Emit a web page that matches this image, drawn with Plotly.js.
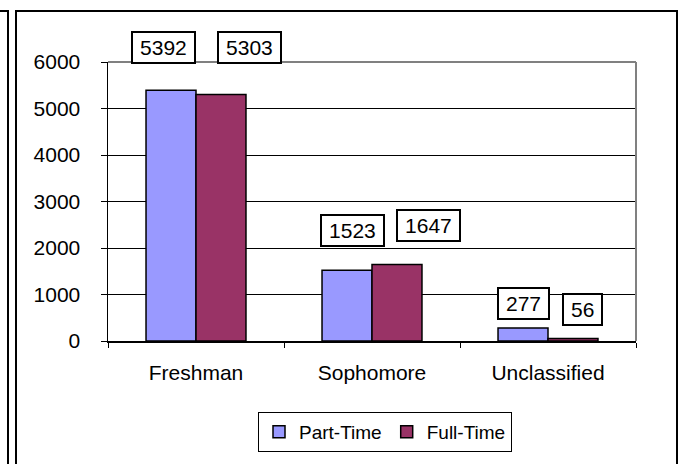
<!DOCTYPE html>
<html>
<head>
<meta charset="utf-8">
<script src="https://cdn.plot.ly/plotly-3.0.1.min.js"></script>
<style>
  html, body { margin: 0; padding: 0; background: #fff; }
  #chart { width: 684px; height: 464px; }
</style>
</head>
<body>
<div id="chart"></div>
<script>
// ---- data ----
var categories = ['Freshman', 'Sophomore', 'Unclassified'];
var partTime = [5392, 1523, 277];
var fullTime = [5303, 1647, 56];
var seriesNames = ['Part-Time', 'Full-Time'];
var yTicks = [0, 1000, 2000, 3000, 4000, 5000, 6000];

// ---- layout geometry (pixels) ----
var W = 684, H = 464;
var L = 108, R = 636, T = 62, B = 341;
function px(x) { return (x - L) / (R - L); }
function py(y) { return (B - y) / (B - T); }

var FONT = '"Liberation Sans", Arial, Helvetica, sans-serif';

var traces = [
  {
    type: 'bar', name: seriesNames[0], x: categories, y: partTime,
    marker: { color: '#9999FF', line: { color: '#000000', width: 1.5 } },
    hoverinfo: 'none'
  },
  {
    type: 'bar', name: seriesNames[1], x: categories, y: fullTime,
    marker: { color: '#993366', line: { color: '#000000', width: 1.5 } },
    hoverinfo: 'none'
  }
];

// label placement offsets (pixels), per category, per series
var labelShiftX = [[-32.5, 53.5], [-20, 56], [-25, 34]];
var labelShiftY = [[43, 47], [40, 39], [25, 29]];

var annotations = [];
[partTime, fullTime].forEach(function (vals, s) {
  vals.forEach(function (v, i) {
    var txt = String(v);
    annotations.push({
      x: categories[i], y: v, xref: 'x', yref: 'y',
      text: txt, showarrow: false,
      xanchor: 'center', yanchor: 'middle',
      xshift: labelShiftX[i][s], yshift: labelShiftY[i][s],
      width: txt.length * 11.7 + 12, height: 27,
      bgcolor: '#ffffff', bordercolor: '#000000', borderwidth: 2, borderpad: 1,
      font: { family: FONT, size: 21, color: '#000000' }
    });
  });
});

var shapes = [
  // plot area border (top, right) in gray
  { type: 'line', xref: 'paper', yref: 'paper', x0: 0, x1: 1, y0: 1, y1: 1,
    line: { color: '#808080', width: 2 }, layer: 'above' },
  { type: 'line', xref: 'paper', yref: 'paper', x0: 1, x1: 1, y0: 0, y1: 1,
    line: { color: '#808080', width: 2 }, layer: 'above' },
  // outer chart frame
  { type: 'rect', xref: 'paper', yref: 'paper',
    x0: px(16), x1: px(677), y0: py(11), y1: py(475),
    line: { color: '#000000', width: 2 }, layer: 'above' },
  // neighbouring frame at left edge
  { type: 'rect', xref: 'paper', yref: 'paper',
    x0: px(-20), x1: px(8), y0: py(11), y1: py(475),
    line: { color: '#000000', width: 2 }, layer: 'above' }
];

var layout = {
  width: W, height: H,
  margin: { l: L, r: W - R, t: T, b: H - B, pad: 0 },
  paper_bgcolor: '#ffffff', plot_bgcolor: '#ffffff',
  font: { family: FONT, size: 21, color: '#000000' },
  barmode: 'group', bargap: 0.432, bargroupgap: 0,
  showlegend: true,
  legend: {
    orientation: 'h', x: px(385), xanchor: 'center', y: py(412), yanchor: 'top',
    bordercolor: '#000000', borderwidth: 1, bgcolor: '#ffffff',
    font: { family: FONT, size: 19, color: '#000000' },
    itemwidth: 30, traceorder: 'normal'
  },
  xaxis: {
    type: 'category', showline: true, linecolor: '#000000', linewidth: 1.5,
    ticks: 'outside', tickson: 'boundaries', ticklen: 5, tickcolor: '#000000', tickwidth: 1,
    showgrid: false, zeroline: false, ticklabelstandoff: 12,
    tickfont: { family: FONT, size: 21, color: '#000000' },
    fixedrange: true
  },
  yaxis: {
    range: [0, 6000], tickvals: yTicks, ticktext: yTicks.map(String),
    showline: true, linecolor: '#000000', linewidth: 1.5,
    ticks: 'outside', ticklen: 6, tickcolor: '#000000', tickwidth: 1,
    showgrid: true, gridcolor: '#000000', gridwidth: 1, zeroline: false,
    ticklabelstandoff: 16,
    tickfont: { family: FONT, size: 21, color: '#000000' },
    fixedrange: true
  },
  annotations: annotations,
  shapes: shapes
};

Plotly.newPlot('chart', traces, layout, { staticPlot: true, displayModeBar: false });
</script>
</body>
</html>
